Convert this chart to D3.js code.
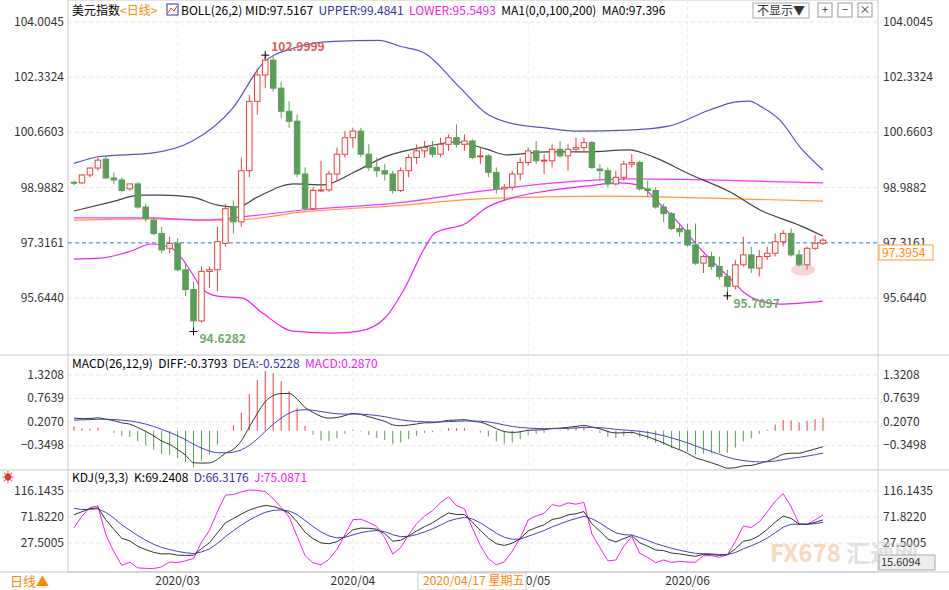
<!DOCTYPE html>
<html><head><meta charset="utf-8">
<script src="https://cdn.jsdelivr.net/npm/d3@7"></script>
<style>body{margin:0;background:#fff}svg{font-family:"Microsoft YaHei","Noto Sans CJK SC",Arial,sans-serif}</style>
</head><body><svg id="c" width="949" height="590"></svg>
<script>
// candles: [open, high, low, close]
var candles = [
 [99.15,99.2,99.05,99.12],[99.13,99.4,99.1,99.37],[99.37,99.6,99.3,99.58],[99.58,99.9,99.5,99.82],
 [99.85,99.95,99.25,99.28],[99.28,99.45,99.1,99.22],[99.22,99.3,98.85,98.9],[98.95,99.1,98.9,99.1],
 [99.1,99.15,98.35,98.4],[98.4,98.5,97.95,98.05],[98.0,98.1,97.55,97.6],[97.6,97.8,97.0,97.1],
 [97.15,97.5,97.0,97.3],[97.3,97.45,96.45,96.5],[96.5,96.7,95.7,95.9],[95.9,96.15,94.63,94.95],
 [94.95,96.6,94.9,96.45],[96.45,96.6,95.95,96.5],[96.5,97.8,95.85,97.35],[97.3,98.5,97.2,98.35],
 [98.4,98.6,97.6,97.95],[97.95,99.9,97.8,99.5],[99.5,101.8,99.3,101.6],[101.6,102.6,101.2,102.4],
 [102.4,103.0,102.0,102.85],[102.85,102.95,101.9,102.0],[102.0,102.2,101.1,101.3],[101.3,101.6,100.8,101.0],
 [101.0,101.2,99.3,99.4],[99.4,99.6,98.3,98.35],[98.35,99.0,98.3,98.9],[98.9,99.8,98.85,98.92],
 [98.92,99.5,98.85,99.4],[99.4,100.2,99.2,100.0],[100.0,100.7,99.9,100.5],[100.5,100.8,100.2,100.7],
 [100.7,100.8,99.9,100.0],[100.0,100.3,99.5,99.6],[99.6,99.9,99.3,99.5],[99.5,99.7,99.2,99.4],
 [99.4,99.5,98.8,98.9],[98.9,99.6,98.85,99.5],[99.5,100.0,99.3,99.9],[99.9,100.3,99.7,100.1],
 [100.1,100.4,99.9,100.2],[100.2,100.4,99.9,100.0],[100.0,100.5,99.9,100.3],[100.3,100.6,100.1,100.5],
 [100.5,100.9,100.2,100.3],[100.3,100.6,100.1,100.4],[100.4,100.45,99.85,99.9],[99.95,100.2,99.7,99.95],
 [99.95,100.0,99.3,99.45],[99.45,99.6,98.8,98.95],[98.95,99.1,98.6,99.0],[99.0,99.5,98.9,99.4],
 [99.4,99.9,99.2,99.75],[99.75,100.2,99.65,100.1],[100.1,100.4,99.7,99.8],[99.8,100.0,99.4,99.82],
 [99.8,100.3,99.6,100.15],[100.15,100.4,99.9,99.95],[99.95,100.3,99.5,100.15],[100.15,100.5,100.05,100.2],
 [100.2,100.5,100.1,100.35],[100.35,100.4,99.55,99.6],[99.55,99.7,99.2,99.5],[99.5,99.6,99.0,99.1],
 [99.1,99.5,99.05,99.3],[99.3,99.8,99.2,99.7],[99.7,100.0,99.6,99.75],[99.75,99.8,98.9,98.95],
 [98.95,99.2,98.7,98.9],[98.9,99.0,98.35,98.4],[98.4,98.5,97.95,98.2],[98.2,98.25,97.7,97.75],
 [97.75,97.9,97.5,97.65],[97.7,97.9,97.2,97.25],[97.25,97.9,96.65,96.7],[96.7,96.95,96.4,96.9],
 [96.9,97.05,96.5,96.6],[96.6,96.9,96.2,96.3],[96.3,96.5,95.71,96.0],[96.0,96.8,95.9,96.65],
 [96.65,97.5,96.6,96.95],[96.95,97.2,96.4,96.55],[96.55,97.1,96.3,96.9],[96.9,97.2,96.8,97.0],
 [97.0,97.6,96.9,97.35],[97.35,97.7,97.2,97.6],[97.6,97.75,96.9,96.95],[96.95,97.1,96.6,96.65],
 [96.65,97.2,96.5,97.15],[97.15,97.55,97.1,97.3],[97.3,97.45,97.25,97.396]
];
// indicator lines: [candle index, value]
var bollUpper = [[0,99.72],[3.3,99.93],[9.7,100.03],[14.8,100.39],[19.9,101.39],[23.7,102.75],[27.5,103.21],[32.6,103.42],[38.3,103.45],[40.9,103.27],[44,103.06],[48.5,102.0],[51.7,101.24],[54.3,100.97],[59.4,100.79],[63.2,100.7],[69.6,100.73],[74.6,100.85],[79.7,101.33],[82.9,101.58],[84.8,101.61],[86.1,101.46],[88.6,101.03],[91.2,100.19],[94,99.52]];
var bollLower = [[0,96.82],[3.3,96.85],[7.1,97.06],[9.7,97.28],[12.2,97.16],[14.8,96.4],[16,95.94],[18,95.7],[21.1,95.64],[23.7,95.18],[27.5,94.64],[32.6,94.58],[35.8,94.64],[39,95.03],[41.5,95.94],[44,97.16],[45.3,97.61],[49.2,97.91],[51.7,98.37],[54.9,98.67],[59.4,98.89],[64.5,99.04],[68.3,99.13],[70.8,99.07],[73.4,98.52],[75.9,97.91],[78.5,97.16],[81,96.55],[82.3,96.25],[84.2,95.79],[86.1,95.55],[88.6,95.46],[94,95.55]];
var bollMid = [[0,98.28],[4.6,98.55],[8.4,98.76],[11,98.76],[14.8,98.7],[18,98.46],[20.5,98.4],[23,98.7],[27.5,99.1],[31.3,99.07],[35.2,99.46],[39,99.92],[44,100.22],[47.9,100.37],[51.7,100.16],[54.3,99.98],[59.4,100.07],[64.5,100.07],[69.6,100.13],[72.7,99.92],[77.2,99.4],[82.3,98.86],[86.1,98.31],[91.2,97.83],[94,97.52]];
var ma100 = [[0,98.07],[9.7,98.07],[16,98.0],[21.1,98.1],[28.8,98.31],[41.5,98.55],[50.4,98.86],[61.9,99.16],[69.6,99.25],[79.7,99.22],[94,99.13]];
var ma200 = [[0,98.0],[9.7,98.04],[19.9,98.0],[28.8,98.25],[41.5,98.46],[50.4,98.64],[67,98.73],[79.7,98.67],[94,98.58]];

var priceTicks = [104.0045, 102.3324, 100.6603, 98.9882, 97.3161, 95.6440];
var macdTicks = [1.3208, 0.7639, 0.2070, -0.3498];
var kdjTicks = [116.1435, 71.8220, 27.5005];
var monthLabels = [[13,'2020/03'],[35,'2020/04'],[57,'2020/05'],[77,'2020/06']];

var svg = d3.select('#c');
var left = 68, right = 878;
var x = d3.scaleLinear().domain([0, candles.length - 1]).range([74, 823]);
var yP = d3.scaleLinear().domain([104.0045, 95.6440]).range([22, 298]);
var yM = d3.scaleLinear().domain([0, 1.3208]).range([430.7, 375]);
var yK = d3.scaleLinear().domain([71.822, 27.5005]).range([517, 543]);
var red = '#e8413e', green = '#5a9e57';

// frame
svg.append('rect').attr('x', left).attr('y', 0).attr('width', right - left).attr('height', 572).attr('fill', 'none').attr('stroke', '#c8c8c8');
[355, 470, 572].forEach(function (yy) {
    svg.append('line').attr('x1', 0).attr('x2', 949).attr('y1', yy).attr('y2', yy).attr('stroke', '#c8c8c8');
});

function grid(ticks, scale, fmt) {
    ticks.forEach(function (t) {
        var yy = scale(t);
        svg.append('line').attr('x1', left).attr('x2', right).attr('y1', yy).attr('y2', yy)
            .attr('stroke', '#e6e6e6').attr('stroke-dasharray', '4,3');
        svg.append('text').attr('x', 64).attr('y', yy + 4).attr('text-anchor', 'end')
            .attr('font-size', 12).attr('fill', '#333').text(fmt(t));
        svg.append('text').attr('x', 883).attr('y', yy + 4)
            .attr('font-size', 12).attr('fill', '#333').text(fmt(t));
    });
}
grid(priceTicks, yP, d3.format('.4f'));
grid(macdTicks, yM, d3.format('.4f'));
grid(kdjTicks, yK, d3.format('.4f'));
monthLabels.forEach(function (m) {
    svg.append('line').attr('x1', x(m[0])).attr('x2', x(m[0])).attr('y1', 0).attr('y2', 572)
        .attr('stroke', '#ececec').attr('stroke-dasharray', '4,3');
});

// watermark
var wm = svg.append('text').attr('x', 770).attr('y', 562).attr('font-size', 24).attr('font-weight', 'bold').attr('opacity', 0.55);
wm.append('tspan').attr('fill', '#f5b880').text('FX678 ');
wm.append('tspan').attr('fill', '#c8c8d0').text('汇通网');

// Current price line
svg.append('line').attr('x1', left).attr('x2', right).attr('y1', yP(97.3161)).attr('y2', yP(97.3161))
    .attr('stroke', '#2a8ee8').attr('stroke-dasharray', '4,3');

function drawLine(pts, scale, color, w) {
    svg.append('path').datum(pts)
        .attr('d', d3.line().x(function (d) { return x(d[0]); }).y(function (d) { return scale(d[1]); }).curve(d3.curveMonotoneX))
        .attr('fill', 'none').attr('stroke', color).attr('stroke-width', w || 1.2);
}
drawLine(ma200, yP, '#ff9933');
drawLine(ma100, yP, '#ff33ff');
drawLine(bollUpper, yP, '#5555bb');
drawLine(bollLower, yP, '#ee22ee');
drawLine(bollMid, yP, '#444');

// candles
var bw = 5.5;
var g = svg.append('g');
candles.forEach(function (c, i) {
    var up = c[3] >= c[0], col = up ? red : green, cx = x(i);
    var top = yP(Math.max(c[0], c[3])), bot = yP(Math.min(c[0], c[3]));
    g.append('line').attr('x1', cx).attr('x2', cx).attr('y1', yP(c[1])).attr('y2', top).attr('stroke', col);
    g.append('line').attr('x1', cx).attr('x2', cx).attr('y1', bot).attr('y2', yP(c[2])).attr('stroke', col);
    g.append('rect').attr('x', cx - bw / 2).attr('y', top).attr('width', bw).attr('height', Math.max(1, bot - top))
        .attr('fill', up ? '#fff' : col).attr('stroke', col);
});

svg.append('ellipse').attr('cx', x(91.5)).attr('cy', yP(96.5)).attr('rx', 12).attr('ry', 6)
    .attr('fill', '#f08080').attr('opacity', 0.35);

function mark(i, v, label, color, dx, dy) {
    var cx = x(i), cy = yP(v);
    svg.append('path').attr('d', 'M' + (cx - 4) + ',' + cy + 'H' + (cx + 4) + 'M' + cx + ',' + (cy - 4) + 'V' + (cy + 4)).attr('stroke', '#000');
    svg.append('text').attr('x', cx + dx).attr('y', cy + dy).attr('font-size', 12).attr('font-weight', 'bold')
        .attr('fill', color).text(label);
}
mark(24, 103.0, '102.9999', '#e05a5a', 6, -4);
mark(15, 94.63, '94.6282', '#6aab6a', 6, 12);
mark(82, 95.71, '95.7097', '#6aab6a', 6, 12);

svg.append('rect').attr('x', 879).attr('y', 245).attr('width', 54).attr('height', 15).attr('fill', '#fff').attr('stroke', '#ff9933');
svg.append('text').attr('x', 882).attr('y', 257).attr('font-size', 12).attr('fill', '#ff8800').text('97.3954');

// MACD (computed from closes)
var closes = candles.map(function (c) { return c[3]; });
var e12 = closes[0] + 0.15, e26 = closes[0] - 0.15, dea = 0.25;
var diff = [], deaArr = [], hist = [];
closes.forEach(function (c, i) {
    if (i > 0) { e12 = e12 * 11 / 13 + c * 2 / 13; e26 = e26 * 25 / 27 + c * 2 / 27; }
    var d = e12 - e26;
    if (i > 0) dea = dea * 8 / 10 + d * 2 / 10;
    diff.push([i, d]); deaArr.push([i, dea]); hist.push(2 * (d - dea));
});
hist.forEach(function (h, i) {
    svg.append('line').attr('x1', x(i)).attr('x2', x(i)).attr('y1', yM(0)).attr('y2', yM(h))
        .attr('stroke', h >= 0 ? red : green);
});
drawLine(diff, yM, '#333', 1);
drawLine(deaArr, yM, '#4444bb', 1);

// KDJ (computed from candles)
var K = 90, D = 92, kA = [], dA = [], jA = [];
candles.forEach(function (c, i) {
    var w = candles.slice(Math.max(0, i - 8), i + 1);
    var hh = d3.max(w, function (d) { return d[1]; }), ll = d3.min(w, function (d) { return d[2]; });
    var rsv = (c[3] - ll) / (hh - ll) * 100;
    K = K * 2 / 3 + rsv / 3; D = D * 2 / 3 + K / 3;
    kA.push([i, K]); dA.push([i, D]); jA.push([i, 3 * K - 2 * D]);
});
svg.append('clipPath').attr('id', 'kc').append('rect').attr('x', left).attr('y', 471).attr('width', right - left).attr('height', 100);
var kg = svg.append('g').attr('clip-path', 'url(#kc)');
[[jA, '#ee22ee'], [dA, '#4444bb'], [kA, '#333']].forEach(function (s) {
    kg.append('path').datum(s[0]).attr('d', d3.line().x(function (d) { return x(d[0]); }).y(function (d) { return yK(d[1]); }))
        .attr('fill', 'none').attr('stroke', s[1]).attr('stroke-width', 1);
});
svg.append('rect').attr('x', 879).attr('y', 555).attr('width', 56).attr('height', 15).attr('fill', '#eee').attr('stroke', '#aaa');
svg.append('text').attr('x', 881).attr('y', 566).attr('font-size', 11).attr('fill', '#333').text('15.6094');

// legends
function legend(x0, y0, parts) {
    var t = svg.append('text').attr('x', x0).attr('y', y0).attr('font-size', 12).attr('xml:space', 'preserve');
    parts.forEach(function (p) { t.append('tspan').attr('fill', p[1]).text(p[0]); });
}
legend(72, 15, [['美元指数', '#000'], ['<日线>', '#ff8800']]);
svg.append('rect').attr('x', 167).attr('y', 4).attr('width', 11).attr('height', 11).attr('fill', '#fff').attr('stroke', '#3333aa');
svg.append('path').attr('d', 'M168,13L171,8L174,11L177,6').attr('stroke', '#e33').attr('fill', 'none');
legend(181, 15, [['BOLL(26,2) MID:97.5167  ', '#000'], ['UPPER:99.4841  ', '#3333aa'], ['LOWER:95.5493  ', '#ee22ee'], ['MA1(0,0,100,200)  MA0:97.396', '#000']]);
legend(72, 368, [['MACD(26,12,9)  DIFF:-0.3793  ', '#000'], ['DEA:-0.5228  ', '#3333aa'], ['MACD:0.2870', '#ee22ee']]);
legend(72, 482, [['KDJ(9,3,3)  K:69.2408  ', '#000'], ['D:66.3176  ', '#3333aa'], ['J:75.0871', '#ee22ee']]);
svg.append('text').attr('x', 2).attr('y', 482).attr('font-size', 12).attr('fill', '#e33').text('☀');

// top right buttons
svg.append('rect').attr('x', 753).attr('y', 3).attr('width', 56).attr('height', 15).attr('fill', '#fff').attr('stroke', '#aaa');
svg.append('text').attr('x', 757).attr('y', 15).attr('font-size', 12).attr('fill', '#333').text('不显示▼');
[818, 838, 858].forEach(function (bx, k) {
    svg.append('rect').attr('x', bx).attr('y', 3).attr('width', 14).attr('height', 14).attr('fill', '#fff').attr('stroke', '#999');
    svg.append('text').attr('x', bx + 7).attr('y', 14).attr('text-anchor', 'middle').attr('font-size', 11).attr('fill', '#333').text(['+', '−', '×'][k]);
});

// x axis
monthLabels.forEach(function (m) {
    svg.append('text').attr('x', x(m[0])).attr('y', 585).attr('text-anchor', 'middle').attr('font-size', 12).attr('fill', '#333').text(m[1]);
});
svg.append('rect').attr('x', 418).attr('y', 573).attr('width', 108).attr('height', 17).attr('fill', '#fff').attr('stroke', '#ccc');
svg.append('text').attr('x', 423).attr('y', 585).attr('font-size', 12).attr('fill', '#ff8800').text('2020/04/17 星期五');
svg.append('text').attr('x', 10).attr('y', 586).attr('font-size', 13).attr('fill', '#ff8800').text('日线▲');
</script></body></html>
